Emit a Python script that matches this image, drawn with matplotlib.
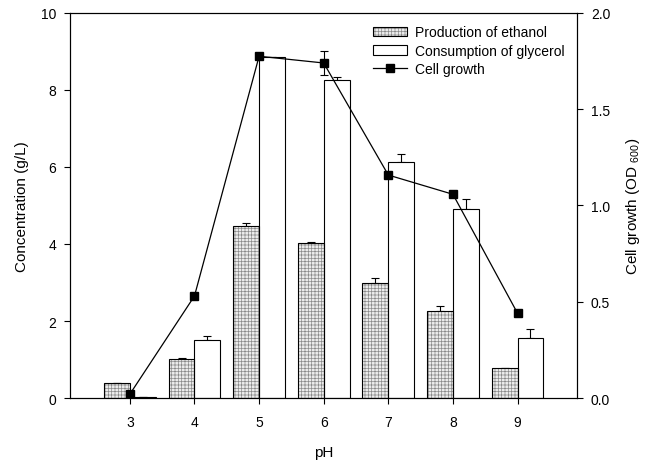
import matplotlib
matplotlib.use("Agg")
import matplotlib.pyplot as plt
from matplotlib.lines import Line2D
from matplotlib.patches import Patch
from matplotlib.legend_handler import HandlerTuple
import numpy as np

plt.rcParams['font.family'] = ['Liberation Sans', 'DejaVu Sans']
plt.rcParams['mathtext.fontset'] = 'custom'
plt.rcParams['mathtext.rm'] = 'Liberation Sans'
plt.rcParams['hatch.linewidth'] = 0.5

ph = [3, 4, 5, 6, 7, 8, 9]
ethanol = [0.40, 1.01, 4.47, 4.02, 2.99, 2.27, 0.77]
ethanol_err = [0.0, 0.03, 0.08, 0.02, 0.12, 0.13, 0.02]
glycerol = [0.02, 1.51, 8.85, 8.27, 6.13, 4.90, 1.55]
glycerol_err = [0.0, 0.11, 0.0, 0.07, 0.21, 0.28, 0.24]
cell = [0.02, 0.53, 1.775, 1.74, 1.158, 1.058, 0.44]
cell_err = [0.0, 0.0, 0.0, 0.06, 0.0, 0.0, 0.0]

fig = plt.figure(figsize=(6.52, 4.64), dpi=100)
ax = fig.add_axes([0.107, 0.140, 0.778, 0.830])
ax2 = ax.twinx()

x = np.array(ph, dtype=float)
w = 0.40
zeros = [0] * len(ph)
# hatched fill (gray grid) + black outline
ax.bar(x, ethanol, width=-w, align='edge', facecolor='#ececec', edgecolor='#8a8a8a',
       hatch='+++++', linewidth=0, zorder=2)
ax.bar(x, ethanol, width=-w, align='edge', facecolor='none', edgecolor='black',
       linewidth=0.8, zorder=2.1)
ax.errorbar(x - w / 2, ethanol, yerr=[zeros, ethanol_err], fmt='none', ecolor='black',
            elinewidth=0.8, capsize=3, capthick=0.8, zorder=1)
ax.bar(x, glycerol, width=w, align='edge', facecolor='white', edgecolor='black',
       linewidth=0.8, zorder=2)
ax.errorbar(x + w / 2, glycerol, yerr=[zeros, glycerol_err], fmt='none', ecolor='black',
            elinewidth=0.8, capsize=3, capthick=0.8, zorder=1)

ax2.errorbar(x, cell, yerr=cell_err, fmt='none', ecolor='black',
             elinewidth=0.8, capsize=3, capthick=0.8)
ax2.plot(x, cell, color='black', marker='s', markersize=6, linewidth=0.9)

ax.set_xlim(2.07, 9.92)
ax.set_ylim(0, 10)
ax2.set_ylim(0, 2.0)
ax.set_xticks(ph)
ax.set_yticks([0, 2, 4, 6, 8, 10])
ax2.set_yticks([0.0, 0.5, 1.0, 1.5, 2.0])
ax2.set_yticklabels(['0.0', '0.5', '1.0', '1.5', '2.0'])

for a in (ax, ax2):
    a.tick_params(direction='out', length=4, width=0.8, labelsize=10)
    for s in a.spines.values():
        s.set_linewidth(0.8)
ax.tick_params(axis='x', pad=8)
ax.tick_params(axis='y', pad=6)
ax2.tick_params(axis='y', pad=6)

ax.set_xlabel('pH', fontsize=11, labelpad=12)
ax.set_ylabel('Concentration (g/L)', fontsize=11, labelpad=8)
ax2.set_ylabel('Cell growth (OD $_{600}$)', fontsize=11, labelpad=10)

eth_handle = (Patch(facecolor='#ececec', edgecolor='#8a8a8a', hatch='+++++', linewidth=0),
              Patch(facecolor='none', edgecolor='black', linewidth=0.8))
handles = [
    eth_handle,
    Patch(facecolor='white', edgecolor='black', linewidth=0.8),
    Line2D([], [], color='black', marker='s', markersize=6, linewidth=0.9),
]
labels = ['Production of ethanol', 'Consumption of glycerol', 'Cell growth']
ax2.legend(handles, labels, loc='upper right', frameon=False, fontsize=10,
           handlelength=2.4, handletextpad=0.6, labelspacing=0.3,
           bbox_to_anchor=(1.0, 1.0),
           handler_map={tuple: HandlerTuple(ndivide=1, pad=0)})

fig.savefig('out.png', dpi=100)
